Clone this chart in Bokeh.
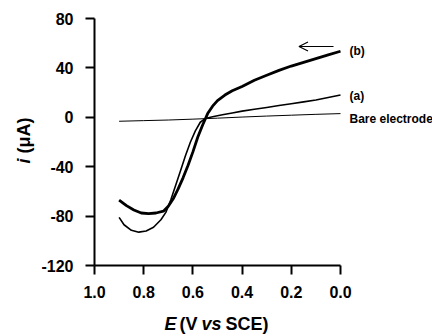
from bokeh.plotting import figure
from bokeh.models import Range1d, FixedTicker, PrintfTickFormatter, Label, Arrow, OpenHead
from bokeh.embed import file_html
from bokeh.resources import INLINE
import math

# ---- data ----
E_bare = [0.90, 0.80, 0.70, 0.60, 0.50, 0.40, 0.30, 0.20, 0.10, 0.00]
i_bare = [-3.2, -2.7, -2.2, -1.5, -0.7, 0.2, 1.0, 1.7, 2.4, 3.0]

E_a = [0.90, 0.88, 0.85, 0.82, 0.79, 0.76, 0.73, 0.71, 0.69, 0.67, 0.65, 0.63, 0.61, 0.59,
       0.57, 0.55, 0.52, 0.48, 0.44, 0.40, 0.35, 0.30, 0.25, 0.20, 0.15, 0.10, 0.05, 0.00]
i_a = [-81, -87, -91.5, -93, -92, -89, -83, -77, -67, -55, -43, -31, -20, -11,
       -4, -1, 0.5, 2, 3.5, 5, 6.5, 8, 9.5, 11, 12.5, 14, 16, 18]

E_b = [0.90, 0.87, 0.84, 0.81, 0.78, 0.75, 0.72, 0.70, 0.68, 0.66, 0.64, 0.62, 0.60, 0.58,
       0.56, 0.54, 0.52, 0.50, 0.47, 0.44, 0.40, 0.35, 0.30, 0.25, 0.20, 0.15, 0.10, 0.05, 0.00]
i_b = [-67, -71.5, -75, -77.5, -78, -77.5, -76, -72, -66, -58, -49, -39, -28, -16,
       -6, 3, 9, 13.5, 18, 21.5, 25, 30, 34, 38, 41.5, 44.5, 47.5, 50.5, 53.5]

x_ticks = [1.0, 0.8, 0.6, 0.4, 0.2, 0.0]
y_ticks = [80, 40, 0, -40, -80, -120]
x_lim = (0.0, 1.0)
y_lim = (-120, 80)

curve_labels = ["(b)", "(a)", "Bare electrode"]

FONT = "Liberation Sans"
W, H = 432, 336

# layout: pixel positions of the axis box inside the canvas
PX_LEFT, PX_RIGHT, PX_TOP, PX_BOTTOM = 94, 340, 18, 265
sx = (PX_RIGHT - PX_LEFT) / (x_lim[1] - x_lim[0])
sy = (PX_BOTTOM - PX_TOP) / (y_lim[1] - y_lim[0])
xr = Range1d(x_lim[1] + PX_LEFT / sx, x_lim[0] - (W - PX_RIGHT) / sx)
yr = Range1d(y_lim[0] - (H - PX_BOTTOM) / sy, y_lim[1] + PX_TOP / sy)

def dx(px):
    return x_lim[1] - (px - PX_LEFT) / sx

def dy(py):
    return y_lim[1] - (py - PX_TOP) / sy

p = figure(width=W, height=H, output_backend="svg", toolbar_location=None,
           x_range=xr, y_range=yr,
           min_border_left=0, min_border_right=0, min_border_top=0, min_border_bottom=0)
p.title.visible = False
p.outline_line_color = None
p.xgrid.visible = False
p.ygrid.visible = False
p.background_fill_color = "white"
p.border_fill_color = "white"

p.xaxis[0].fixed_location = y_lim[0]
p.yaxis[0].fixed_location = x_lim[1]
p.xaxis[0].bounds = x_lim
p.yaxis[0].bounds = y_lim

for ax, ticks in ((p.xaxis[0], x_ticks), (p.yaxis[0], y_ticks)):
    ax.ticker = FixedTicker(ticks=ticks)
    ax.minor_tick_line_color = None
    ax.major_tick_in = 0
    ax.major_tick_out = 9
    ax.major_tick_line_width = 2
    ax.axis_line_width = 2
    ax.axis_line_color = "black"
    ax.major_tick_line_color = "black"
    ax.major_label_text_font = FONT
    ax.major_label_text_font_style = "bold"
    ax.major_label_text_font_size = "16px"
    ax.major_label_text_color = "black"
p.xaxis[0].major_label_standoff = 11
p.yaxis[0].major_label_standoff = 12
p.xaxis[0].formatter = PrintfTickFormatter(format="%.1f")
p.yaxis[0].formatter = PrintfTickFormatter(format="%d")

p.line(E_bare, i_bare, line_color="black", line_width=1)
p.line(E_a, i_a, line_color="black", line_width=1.6)
p.line(E_b, i_b, line_color="black", line_width=2.8)

# arrow indicating scan direction
p.add_layout(Arrow(x_start=dx(333), y_start=dy(46), x_end=dx(298.5), y_end=dy(46),
                   line_color="black", line_width=1.2,
                   end=OpenHead(size=9, line_color="black", line_width=1.2)))

# curve labels
for txt, py in zip(curve_labels, [50.5, 95, 118]):
    p.add_layout(Label(x=dx(349), y=dy(py), text=txt, text_font=FONT, text_font_style="bold",
                       text_font_size="12px", text_baseline="middle", text_align="left",
                       text_color="black"))

# x axis title (mixed italic)
for txt, px, style in (("E", 164, "bold italic"), ("(V", 179, "bold"),
                       ("vs", 201, "bold italic"), ("SCE)", 225, "bold")):
    p.add_layout(Label(x=dx(px), y=dy(323), text=txt, text_font=FONT, text_font_style=style,
                       text_font_size="18px", text_baseline="middle", text_align="left",
                       text_color="black"))

# y axis title (rotated)
for txt, py, style in (("i", 163, "bold italic"), ("(μA)", 153, "bold")):
    p.add_layout(Label(x=dx(23), y=dy(py), text=txt, text_font=FONT, text_font_style=style,
                       text_font_size="18px", text_baseline="middle", text_align="left",
                       angle=math.pi / 2, text_color="black"))

open("out.html", "w").write(file_html(p, INLINE))
